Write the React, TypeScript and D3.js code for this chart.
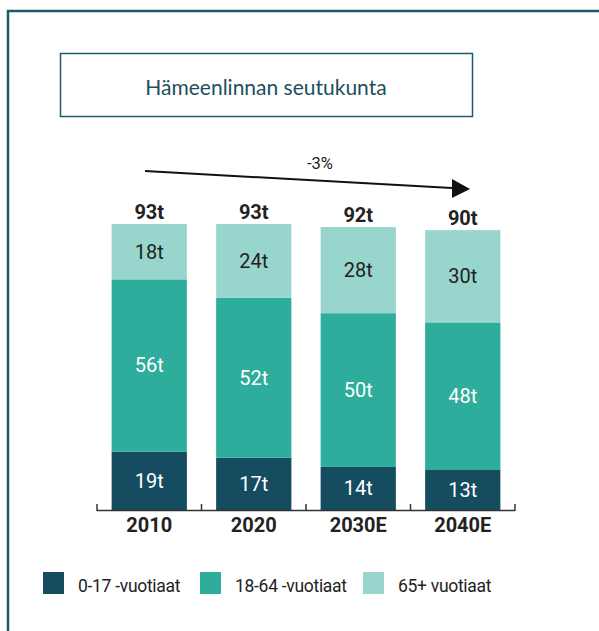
import React, { useRef, useEffect } from 'react';
import * as d3 from 'd3';

// data
const years = ['2010', '2020', '2030E', '2040E'];
const kids = [19, 17, 14, 13];
const working = [56, 52, 50, 48];
const seniors = [18, 24, 28, 30];
const totals = [93, 93, 92, 90];
const seriesNames = ['0-17 -vuotiaat', '18-64 -vuotiaat', '65+ vuotiaat'];
const colors = ['#154c5f', '#2eac9c', '#98d6cd'];
const textColors = ['#ffffff', '#ffffff', '#222222'];
const title = 'Hämeenlinnan seutukunta';
const changeLabel = '-3%';

const W = 599;
const H = 631;
const FONT = 'Roboto, sans-serif';

function drawChart(svgEl: SVGSVGElement) {
  const svg = d3.select(svgEl);
  svg.selectAll('*').remove();

  // outer frame (only left & top edges visible)
  svg.append('path')
    .attr('d', `M8,${H + 5} L8,11 L${W + 5},11`)
    .attr('fill', 'none')
    .attr('stroke', '#1d5a6b')
    .attr('stroke-width', 2.5);

  // title box
  svg.append('rect')
    .attr('x', 60.5).attr('y', 53.5)
    .attr('width', 412).attr('height', 63)
    .attr('fill', 'white')
    .attr('stroke', '#1d5a6b')
    .attr('stroke-width', 1.5);
  svg.append('text')
    .attr('x', 266).attr('y', 86)
    .attr('text-anchor', 'middle')
    .attr('dominant-baseline', 'central')
    .attr('font-family', 'Lato, sans-serif')
    .attr('font-size', 21)
    .attr('fill', '#1b4f5e')
    .text(title);

  const x = d3.scaleBand<string>()
    .domain(years)
    .range([97, 515])
    .paddingInner(0.28)
    .paddingOuter(0.14);

  const y = d3.scaleLinear()
    .domain([0, 93])
    .range([510, 224]);

  const rows = years.map((yr, i) => ({ year: yr, k: kids[i], w: working[i], s: seniors[i], total: totals[i] }));
  const stack = d3.stack<any>().keys(['k', 'w', 's']);
  const series = stack(rows);

  const g = svg.append('g');
  series.forEach((ser, si) => {
    const layer = g.append('g');
    layer.selectAll('rect')
      .data(ser)
      .join('rect')
      .attr('x', d => x(d.data.year)!)
      .attr('width', x.bandwidth())
      .attr('y', d => y(d[1]))
      .attr('height', d => y(d[0]) - y(d[1]))
      .attr('fill', colors[si]);
    layer.selectAll('text')
      .data(ser)
      .join('text')
      .attr('x', d => x(d.data.year)! + x.bandwidth() / 2)
      .attr('y', d => (y(d[0]) + y(d[1])) / 2)
      .attr('text-anchor', 'middle')
      .attr('dominant-baseline', 'central')
      .attr('font-family', FONT)
      .attr('font-size', 20)
      .attr('fill', textColors[si])
      .text(d => `${d[1] - d[0]}t`);
  });

  // totals
  const top = series[series.length - 1];
  svg.append('g').selectAll('text')
    .data(top)
    .join('text')
    .attr('x', d => x(d.data.year)! + x.bandwidth() / 2)
    .attr('y', d => y(d[1]) - 12)
    .attr('text-anchor', 'middle')
    .attr('dominant-baseline', 'central')
    .attr('font-family', FONT)
    .attr('font-size', 20)
    .attr('font-weight', 'bold')
    .attr('fill', '#222')
    .text(d => `${d.data.total}t`);

  // axis
  const axis = svg.append('g');
  axis.append('line')
    .attr('x1', 97).attr('x2', 515)
    .attr('y1', 510.5).attr('y2', 510.5)
    .attr('stroke', '#333').attr('stroke-width', 1.5);
  const tickXs = years.map(yr => x(yr)! - (x.step() - x.bandwidth()) / 2).concat([515]);
  axis.selectAll('line.tick')
    .data(tickXs)
    .join('line')
    .attr('class', 'tick')
    .attr('x1', d => d).attr('x2', d => d)
    .attr('y1', 504).attr('y2', 511)
    .attr('stroke', '#333').attr('stroke-width', 1.5);
  axis.selectAll('text')
    .data(years)
    .join('text')
    .attr('x', d => x(d)! + x.bandwidth() / 2)
    .attr('y', 525)
    .attr('text-anchor', 'middle')
    .attr('dominant-baseline', 'central')
    .attr('font-family', FONT)
    .attr('font-size', 20)
    .attr('font-weight', 'bold')
    .attr('fill', '#222')
    .text(d => d);

  // trend arrow
  svg.append('line')
    .attr('x1', 145).attr('y1', 171)
    .attr('x2', 452).attr('y2', 188)
    .attr('stroke', '#111').attr('stroke-width', 2);
  svg.append('path')
    .attr('d', 'M452,179 L470,189 L452,198 Z')
    .attr('fill', '#111');
  svg.append('text')
    .attr('x', 320).attr('y', 163)
    .attr('text-anchor', 'middle')
    .attr('dominant-baseline', 'central')
    .attr('font-family', FONT)
    .attr('font-size', 16.5)
    .attr('fill', '#222')
    .text(changeLabel);

  // legend
  const legendX = [43, 200, 363];
  const leg = svg.append('g');
  seriesNames.forEach((name, i) => {
    leg.append('rect')
      .attr('x', legendX[i]).attr('y', 572)
      .attr('width', 21).attr('height', 22)
      .attr('fill', colors[i]);
    leg.append('text')
      .attr('x', legendX[i] + 35).attr('y', 585.5)
      .attr('dominant-baseline', 'central')
      .attr('font-family', FONT)
      .attr('font-size', 17.5)
      .attr('letter-spacing', -0.3)
      .attr('fill', '#222')
      .text(name);
  });
}

export default function App() {
  const ref = useRef<SVGSVGElement>(null);
  useEffect(() => {
    if (ref.current) drawChart(ref.current);
  }, []);
  return (
    <svg
      ref={ref}
      width={W}
      height={H}
      style={{ position: 'absolute', left: 0, top: 0, background: 'white' }}
    />
  );
}
